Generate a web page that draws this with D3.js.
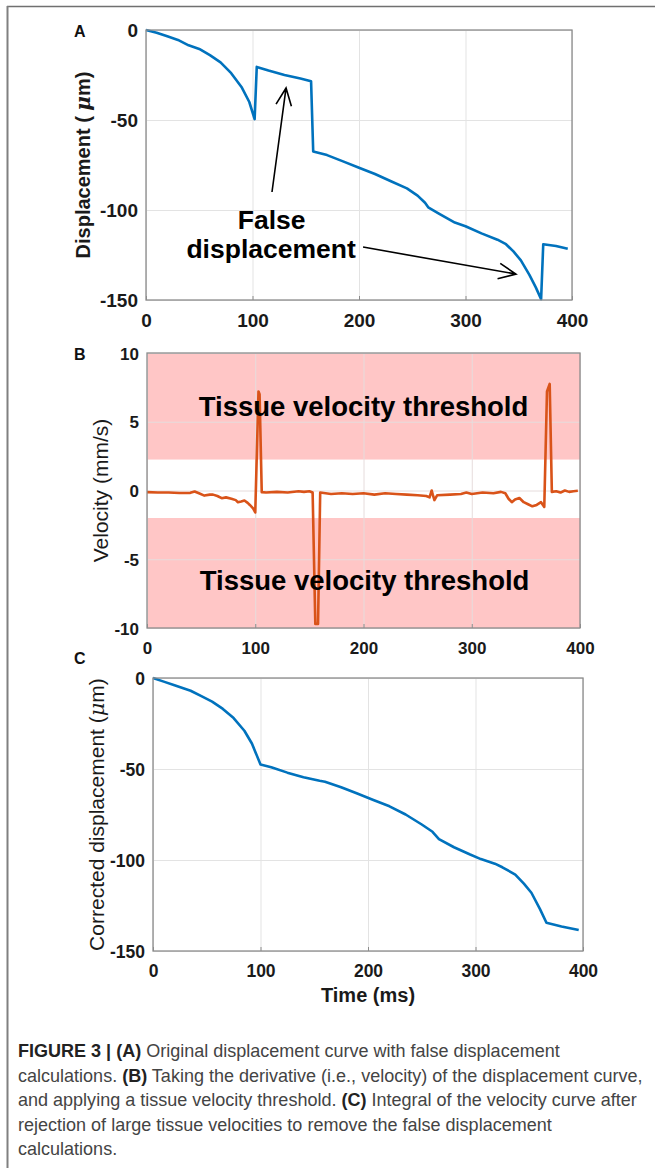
<!DOCTYPE html>
<html>
<head>
<meta charset="utf-8">
<script src="https://cdn.jsdelivr.net/npm/d3@7"></script>
<style>
html,body{margin:0;padding:0;background:#fff;}
svg{display:block;}
</style>
</head>
<body>
<svg id="chart" width="655" height="1168"></svg>
<script>
// ---------- DATA ----------
const xTicks = [0, 100, 200, 300, 400];
const dispTicks = [0, -50, -100, -150];
const velTicks = [10, 5, 0, -5, -10];

// Panel A: original displacement (time ms, displacement µm)
const timeA = [0,10,20,30,40,50,60,70,80,90,97,102,104,115,130,145,155,157,170,185,200,215,230,245,255,262,265,275,290,300,315,330,338,345,352,360,366,371,373,385,396];
const dispA = [0,-1.5,-3.5,-5.5,-8.5,-10.5,-14,-18,-24,-32,-40,-49.5,-20.5,-22.5,-25,-27,-28.5,-67.5,-69.5,-73,-76.5,-80,-84,-88,-92,-96,-98.5,-102,-107,-109,-113,-116.5,-119,-123,-128,-136,-143,-149.5,-119,-120,-121.5];

// Panel B: velocity (time ms, mm/s)
const timeB = [0,10,20,30,40,44,48,53,58,61,65,69,73,78,82,84,87,90,93,95,98,100,103,104,106,110,120,130,140,145,150,153,155.5,158,160,170,180,190,200,210,220,230,240,250,258,261,263,264,265.5,268,280,290,295,300,310,320,327,331,334,337,340,344,348,352,356,360,364,367,369.5,372,374,378,382,386,390,394,398];
const velB = [-0.12,-0.15,-0.15,-0.18,-0.17,-0.07,-0.2,-0.37,-0.3,-0.3,-0.4,-0.56,-0.5,-0.6,-0.7,-0.85,-0.8,-0.73,-0.9,-1.05,-1.3,-1.6,7.2,7.0,-0.12,-0.15,-0.1,-0.15,-0.05,-0.1,-0.05,-0.15,-9.7,-9.7,-0.15,-0.25,-0.2,-0.25,-0.2,-0.3,-0.2,-0.25,-0.3,-0.35,-0.4,-0.5,0.0,-0.3,-0.7,-0.35,-0.3,-0.25,-0.15,-0.25,-0.15,-0.2,-0.1,-0.2,-0.6,-0.85,-0.65,-0.55,-0.85,-1.0,-1.15,-1.05,-0.85,-1.2,7.2,7.75,-0.1,-0.05,-0.15,0.0,-0.1,-0.05,-0.02];
const thresholdUpper = 2.25;
const thresholdLower = -2.0;

// Panel C: corrected displacement
const timeC = [0,10,20,35,45,55,65,75,85,92,100,110,125,140,155,160,175,190,205,220,235,250,260,266,280,295,305,318,325,337,345,352,360,366,380,396];
const dispC = [0,-2,-4,-7,-10,-13,-17,-22,-29,-36,-47.5,-49,-52,-54.5,-56.5,-57,-60,-63.5,-67,-70.5,-75,-80.5,-84.5,-88.5,-93,-97,-99.5,-102,-104,-108,-113,-118,-127,-134.5,-136.5,-138.5];

const captionLines = [
  [["FIGURE 3 | ", true], ["(A)", true], [" Original displacement curve with false displacement", false]],
  [["calculations. ", false], ["(B)", true], [" Taking the derivative (i.e., velocity) of the displacement curve,", false]],
  [["and applying a tissue velocity threshold. ", false], ["(C)", true], [" Integral of the velocity curve after", false]],
  [["rejection of large tissue velocities to remove the false displacement", false]],
  [["calculations.", false]]
];

// ---------- DRAW ----------
const svg = d3.select("#chart");
const FONT = "'Liberation Sans', Arial, sans-serif";
const blue = "#0072BD", red = "#D95319", pink = "#FFC6C6", gridC = "#e3e3e3", boxC = "#8c8c8c";
const fmt = d => String(d);

// frame
svg.append("line").attr("x1",7).attr("x2",655).attr("y1",6.5).attr("y2",6.5).attr("stroke","#707070").attr("stroke-width",1.5);
svg.append("line").attr("x1",7.5).attr("x2",7.5).attr("y1",6).attr("y2",1168).attr("stroke","#808080").attr("stroke-width",2);

function panel(o){
  const x = d3.scaleLinear().domain([0,400]).range([o.l,o.r]);
  const y = d3.scaleLinear().domain(o.yDomain).range([o.b,o.t]);
  const g = svg.append("g");
  if (o.bands) {
    o.bands.forEach(bd => {
      g.append("rect").attr("x",o.l).attr("width",o.r-o.l)
        .attr("y",y(bd[1])).attr("height",y(bd[0])-y(bd[1])).attr("fill",pink);
    });
  }
  // grid
  g.append("g").attr("transform",`translate(0,${o.b})`)
    .call(d3.axisBottom(x).tickValues(xTicks).tickSize(-(o.b-o.t)).tickFormat(""))
    .call(s=>{s.select(".domain").remove(); s.selectAll("line").attr("stroke",o.gridColor||gridC).attr("stroke-width",1);});
  g.append("g").attr("transform",`translate(${o.l},0)`)
    .call(d3.axisLeft(y).tickValues(o.yTicks).tickSize(-(o.r-o.l)).tickFormat(""))
    .call(s=>{s.select(".domain").remove(); s.selectAll("line").attr("stroke",o.gridColor||gridC).attr("stroke-width",1);});
  // data line
  const pts = o.xs.map((v,i)=>[v,o.ys[i]]);
  g.append("path").datum(pts)
    .attr("d", d3.line().x(d=>x(d[0])).y(d=>y(d[1])))
    .attr("fill","none").attr("stroke",o.color).attr("stroke-width",2.6).attr("stroke-linejoin","round");
  // box
  g.append("rect").attr("x",o.l).attr("y",o.t).attr("width",o.r-o.l).attr("height",o.b-o.t)
    .attr("fill","none").attr("stroke",boxC).attr("stroke-width",1.3);
  // ticks
  const ax = g.append("g").attr("transform",`translate(0,${o.b})`)
    .call(d3.axisBottom(x).tickValues(xTicks).tickFormat(fmt).tickSize(4).tickSizeOuter(0).tickPadding(0));
  ax.select(".domain").remove();
  ax.selectAll("line").attr("stroke",boxC).attr("transform","translate(0,-4)");
  ax.selectAll("text").attr("font-family",FONT).attr("font-weight","bold").attr("font-size",o.tickSize)
    .attr("fill","#1a1a1a").attr("dy",null).attr("y",o.xLabelBase-o.b);
  const ay = g.append("g").attr("transform",`translate(${o.l},0)`)
    .call(d3.axisLeft(y).tickValues(o.yTicks).tickFormat(fmt).tickSize(0).tickPadding(8));
  ay.select(".domain").remove();
  ay.selectAll("text").attr("font-family",FONT).attr("font-weight","bold").attr("font-size",o.tickSize)
    .attr("fill","#1a1a1a").attr("dy","0.36em").attr("text-anchor","end");
  // panel letter
  svg.append("text").attr("x",74).attr("y",o.letterY).text(o.letter)
    .attr("font-family",FONT).attr("font-weight","bold").attr("font-size",16).attr("fill","#111");
  // y label
  const yl = svg.append("text").attr("transform",`translate(${o.ylx},${(o.t+o.b)/2}) rotate(-90)`)
    .attr("text-anchor","middle").attr("font-family",FONT).attr("font-size",o.ylSize)
    .attr("font-weight",o.ylWeight).attr("fill","#1a1a1a");
  o.ylabel.forEach(p=>{ yl.append("tspan").text(p[0]).attr("font-style",p[1]?"italic":null).attr("font-family",p[1]?"'DejaVu Serif', serif":null); });
  return {x,y,g};
}

// Panel A
const A = panel({l:146,r:572,t:30,b:300,yDomain:[-150,0],yTicks:dispTicks,xs:timeA,ys:dispA,color:blue,
  tickSize:19,xLabelBase:327,letter:"A",letterY:37,ylx:90,ylSize:20,ylWeight:"bold",
  ylabel:[["Displacement ( ",false],["μ",true],["m)",false]]});

// annotations for A (data coordinates)
const annText = [["False",118,-110.5],["displacement",117.5,-126.5]];
const annArrows = [[118.3,-90,131.5,-32.2],[203.8,-120.6,347.4,-135.6]];
annText.forEach(t=>{
  svg.append("text").attr("x",A.x(t[1])).attr("y",A.y(t[2])).attr("text-anchor","middle")
    .attr("font-family",FONT).attr("font-weight","bold").attr("font-size",26.5).attr("fill","#000").text(t[0]);
});
annArrows.forEach(a=>{
  const x1=A.x(a[0]),y1=A.y(a[1]),x2=A.x(a[2]),y2=A.y(a[3]);
  const ang=Math.atan2(y1-y2,x1-x2), L=19, sp=0.42;
  svg.append("path").attr("d",`M${x1},${y1}L${x2},${y2}M${x2+L*Math.cos(ang+sp)},${y2+L*Math.sin(ang+sp)}L${x2},${y2}L${x2+L*Math.cos(ang-sp)},${y2+L*Math.sin(ang-sp)}`)
    .attr("fill","none").attr("stroke","#000").attr("stroke-width",1.6);
});

// Panel B
const B = panel({l:147,r:580,t:353,b:628,yDomain:[-10,10],yTicks:velTicks,xs:timeB,ys:velB,color:red,
  bands:[[thresholdUpper,10],[-10,thresholdLower]],gridColor:"#e6dcdc",
  tickSize:17,xLabelBase:654,letter:"B",letterY:360,ylx:108,ylSize:21,ylWeight:"normal",
  ylabel:[["Velocity (mm/s)",false]]});
const bText = [["Tissue velocity threshold",200,5.42],["Tissue velocity threshold",201,-7.25]];
bText.forEach(t=>{
  svg.append("text").attr("x",B.x(t[1])).attr("y",B.y(t[2])).attr("text-anchor","middle")
    .attr("font-family",FONT).attr("font-weight","bold").attr("font-size",27.5).attr("fill","#000").text(t[0]);
});

// Panel C
const C = panel({l:153,r:583,t:678,b:951,yDomain:[-150,0],yTicks:dispTicks,xs:timeC,ys:dispC,color:blue,
  tickSize:17.5,xLabelBase:977,letter:"C",letterY:664,ylx:104,ylSize:21,ylWeight:"normal",
  ylabel:[["Corrected displacement (",false],["μ",true],["m)",false]]});
svg.append("text").attr("x",(153+583)/2).attr("y",1002).attr("text-anchor","middle")
  .attr("font-family",FONT).attr("font-weight","bold").attr("font-size",20).attr("fill","#1a1a1a").text("Time (ms)");

// Caption
const capBase = [1057,1081.5,1106,1130.5,1155];
const capX = 18, capRight = 643;
const capTexts = captionLines.map((line,i)=>{
  const t = svg.append("text").attr("x",capX).attr("y",capBase[i])
    .attr("font-family",FONT).attr("font-size",16).attr("fill","#444");
  line.forEach(p=>{
    t.append("tspan").text(p[0]).attr("font-weight",p[1]?"bold":"normal").attr("fill",p[1]?"#222":"#444");
  });
  return t;
});
const L2 = capTexts[1].node().getComputedTextLength();
const capSize = 16*(capRight-capX)/L2;
capTexts.forEach(t=>t.attr("font-size",capSize));
</script>
</body>
</html>
